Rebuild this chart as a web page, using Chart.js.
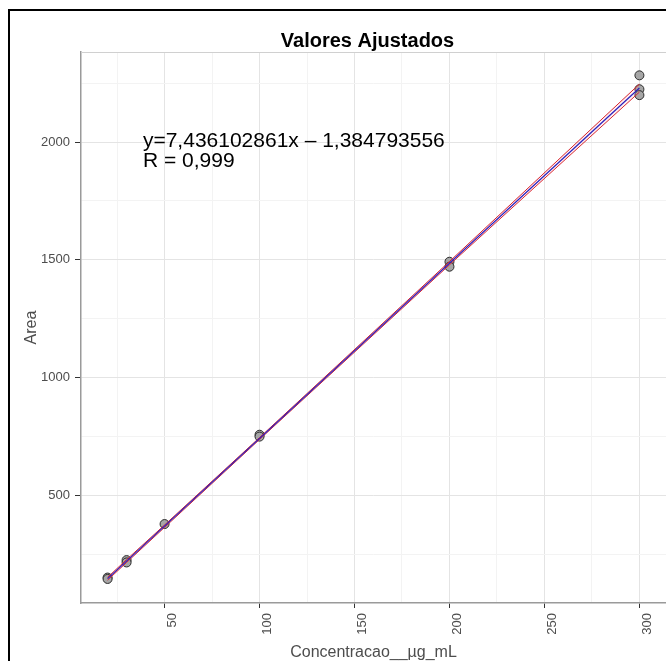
<!DOCTYPE html>
<html>
<head>
<meta charset="utf-8">
<script src="https://cdn.jsdelivr.net/npm/chart.js@4/dist/chart.umd.min.js"></script>
<style>
  html, body { margin: 0; padding: 0; background: #fff; overflow: hidden; }
  #moldura { position: absolute; left: 8px; top: 9px; width: 720px; height: 720px; border: 2px solid #000; box-sizing: border-box; }
  #wrap { position: absolute; left: 0; top: 0; width: 666px; height: 661px; }
</style>
</head>
<body>
<div id="moldura"></div>
<div id="wrap"><canvas id="grafico" width="666" height="661"></canvas></div>
<script>
// pontos medidos (concentracao x area)
const concentracao = [20, 20, 30, 30, 50, 100, 100, 200, 200, 300, 300, 300];
const area = [152, 146, 226, 216, 379, 758, 750, 1492, 1471, 2283, 2224, 2199];

// reta ajustada e banda de confianca
const inclinacao = 7.436102861;
const intercepto = -1.384793556;
const bandaX = [20, 30, 50, 100, 200, 300];
const bandaSup = [153, 228, 375, 746, 1493, 2246];
const bandaInf = [141, 216, 365, 738, 1479, 2212];

// eixos
const xMaior = [50, 100, 150, 200, 250, 300];
const xMenor = [25, 75, 125, 175, 225, 275];
const xRotulos = ['50', '100', '150', '200', '250', '300'];
const yMaior = [500, 1000, 1500, 2000];
const yMenor = [250, 750, 1250, 1750, 2250];
const yRotulos = ['500', '1000', '1500', '2000'];

const titulo = 'Valores Ajustados';
const equacao = 'y=7,436102861x \u2013 1,384793556';
const rTexto = 'R = 0,999';

const pts = concentracao.map((x, i) => ({ x: x, y: area[i] }));
const ajuste = [bandaX[0], bandaX[bandaX.length - 1]].map(x => ({ x: x, y: inclinacao * x + intercepto }));
const sup = bandaX.map((x, i) => ({ x: x, y: bandaSup[i] }));
const inf = bandaX.map((x, i) => ({ x: x, y: bandaInf[i] }));

function marcas(maior, menor) {
  return s => { s.ticks = maior.concat(menor).sort((a, b) => a - b).map(v => ({ value: v })); };
}

const textos = {
  id: 'textos',
  afterDraw(chart) {
    const c = chart.ctx, a = chart.chartArea;
    const sx = chart.scales.x, sy = chart.scales.y;
    c.save();
    // borda superior do painel
    c.strokeStyle = '#d0d0d0';
    c.lineWidth = 1;
    c.beginPath(); c.moveTo(a.left, a.top + 0.5); c.lineTo(a.right, a.top + 0.5); c.stroke();

    c.fillStyle = '#000';
    c.textAlign = 'center';
    c.textBaseline = 'alphabetic';
    c.font = 'bold 20px "Liberation Sans", Arial, sans-serif';
    c.fillText(titulo, (a.left + a.right) / 2 - 6, 47);

    c.textAlign = 'left';
    c.font = '21px "Liberation Sans", Arial, sans-serif';
    const tx = sx.getPixelForValue(38.6);
    c.fillText(equacao, tx, sy.getPixelForValue(1980));
    c.fillText(rTexto, tx, sy.getPixelForValue(1895));

    c.fillStyle = '#4d4d4d';
    c.font = '16px "Liberation Sans", Arial, sans-serif';
    c.textAlign = 'center';
    c.fillText('Concentracao__\u00b5g_mL', (a.left + a.right) / 2, 657);
    c.translate(36, (a.top + a.bottom) / 2);
    c.rotate(-Math.PI / 2);
    c.fillText('Area', 0, 0);
    c.restore();
  }
};

const ctx = document.getElementById('grafico').getContext('2d');

let grafico = new Chart(ctx, {
  type: 'scatter',
  data: {
    datasets: [
      {
        label: 'sup',
        data: sup,
        showLine: true,
        borderColor: 'rgb(215,35,45)',
        borderWidth: 1,
        backgroundColor: 'rgba(255,120,130,0.12)',
        pointRadius: 0,
        fill: '+1',
        order: 0
      },
      {
        label: 'inf',
        data: inf,
        showLine: true,
        borderColor: 'rgb(215,35,45)',
        borderWidth: 1,
        pointRadius: 0,
        fill: false,
        order: 0
      },
      {
        label: 'ajuste',
        data: ajuste,
        showLine: true,
        borderColor: 'rgb(40,30,190)',
        borderWidth: 1.2,
        pointRadius: 0,
        fill: false,
        order: -1
      },
      {
        label: 'Area',
        data: pts,
        pointRadius: 4.5,
        pointBackgroundColor: '#a6a6a6',
        pointBorderColor: '#2b2b2b',
        pointBorderWidth: 1,
        order: 1
      }
    ]
  },
  options: {
    responsive: false,
    animation: false,
    layout: { autoPadding: false, padding: { top: 52, right: 0, left: 0, bottom: 0 } },
    plugins: {
      legend: { display: false },
      title: { display: false },
      tooltip: { enabled: false }
    },
    scales: {
      x: {
        type: 'linear',
        min: 6,
        max: 314,
        afterBuildTicks: marcas(xMaior, xMenor),
        afterFit: s => { s.height = 58; },
        grid: {
          color: c => xMaior.includes(c.tick.value) ? '#e4e4e4' : '#f3f3f3',
          tickColor: c => xMaior.includes(c.tick.value) ? '#333' : 'rgba(0,0,0,0)',
          tickLength: 5
        },
        border: { color: '#9a9a9a', width: 1.5 },
        ticks: {
          autoSkip: false,
          minRotation: 90,
          maxRotation: 90,
          padding: 5,
          labelOffset: 8,
          color: '#4d4d4d',
          font: { family: '"Liberation Sans", Arial, sans-serif', size: 13 },
          callback: v => { const i = xMaior.indexOf(v); return i < 0 ? '' : xRotulos[i]; }
        }
      },
      y: {
        type: 'linear',
        min: 44,
        max: 2382,
        afterBuildTicks: marcas(yMaior, yMenor),
        afterFit: s => { s.width = 81; },
        grid: {
          color: c => yMaior.includes(c.tick.value) ? '#e4e4e4' : '#f3f3f3',
          tickColor: c => yMaior.includes(c.tick.value) ? '#333' : 'rgba(0,0,0,0)',
          tickLength: 6
        },
        border: { color: '#9a9a9a', width: 1.5 },
        ticks: {
          autoSkip: false,
          padding: 5,
          color: '#4d4d4d',
          font: { family: '"Liberation Sans", Arial, sans-serif', size: 13 },
          callback: v => { const i = yMaior.indexOf(v); return i < 0 ? '' : yRotulos[i]; }
        }
      }
    }
  },
  plugins: [textos]
});
</script>
</body>
</html>
